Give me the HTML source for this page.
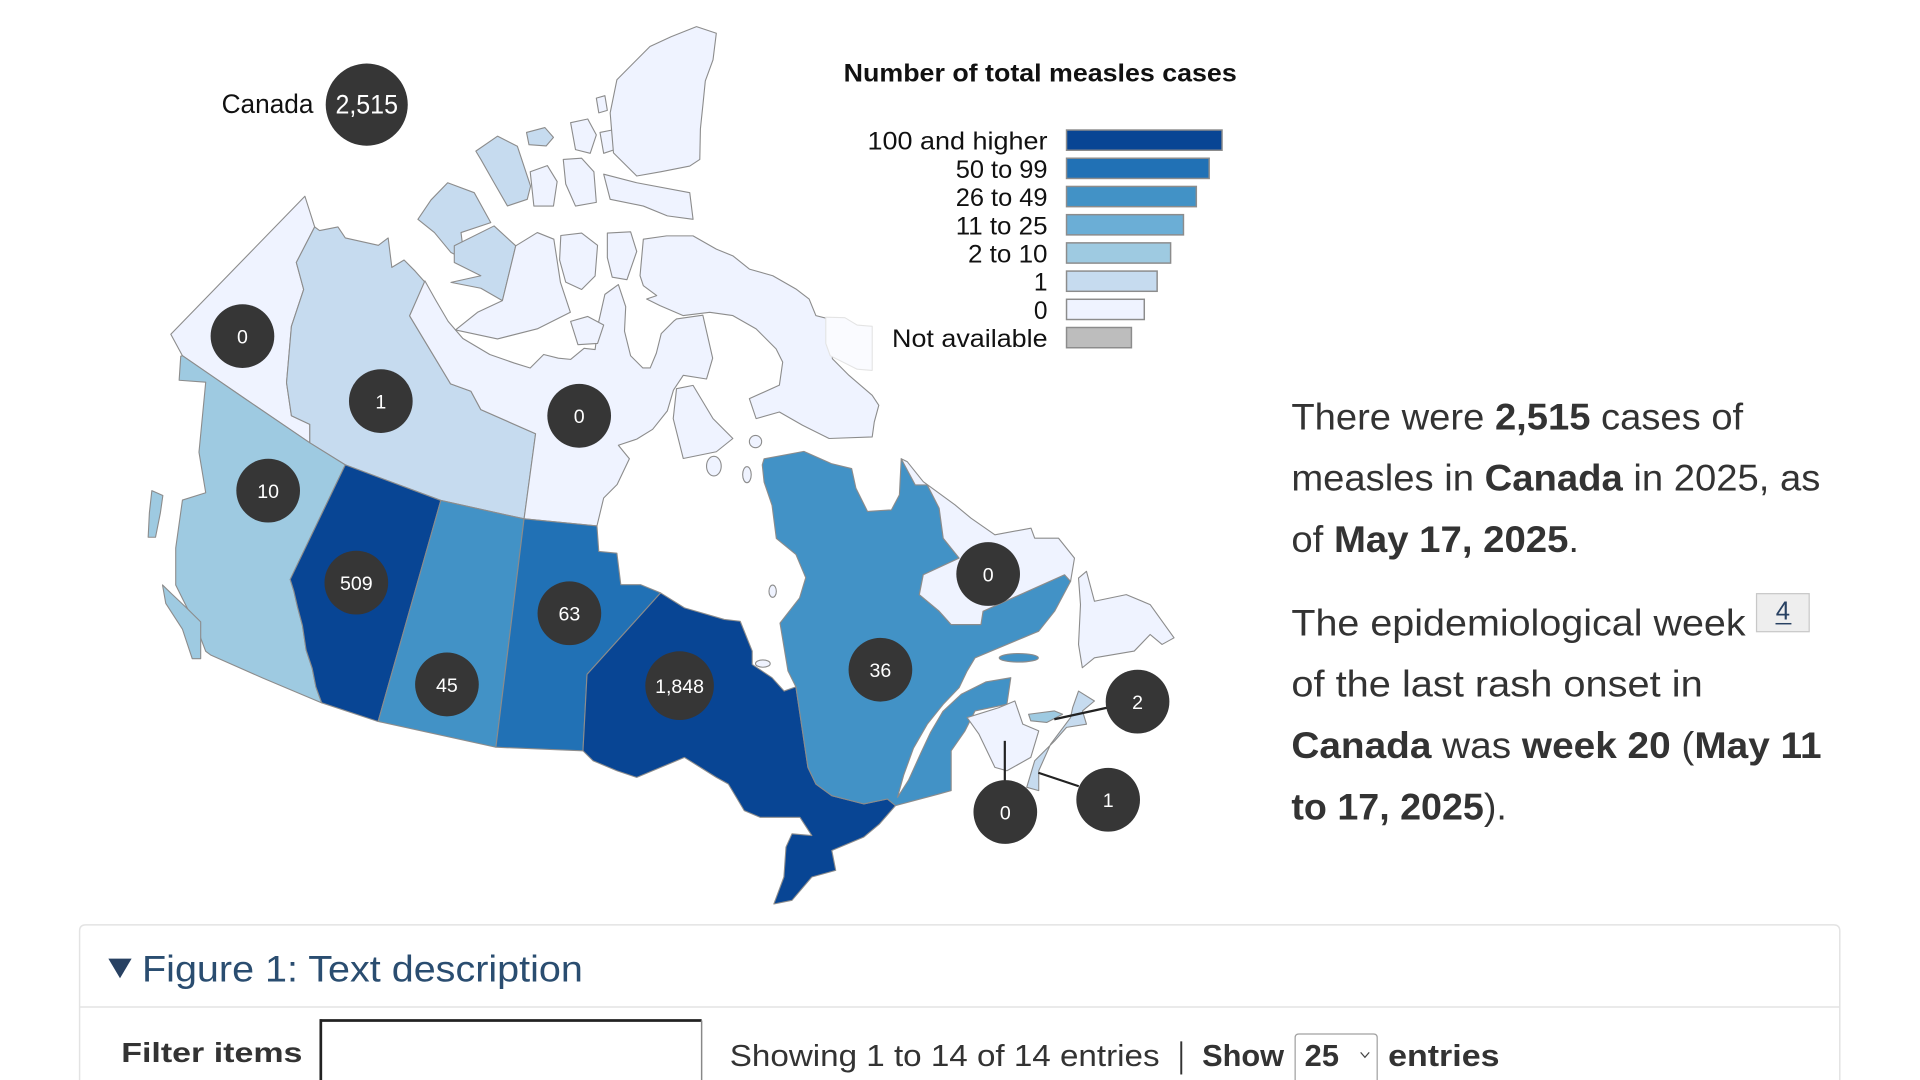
<!DOCTYPE html>
<html>
<head>
<meta charset="utf-8">
<style>
html,body{margin:0;padding:0;background:#fff;overflow:hidden;width:1920px;height:1080px;}
svg{display:block;}
text{font-family:"Liberation Sans",sans-serif;}
</style>
</head>
<body>
<svg width="1920" height="1080" viewBox="0 0 1568 880.5" preserveAspectRatio="none" xmlns="http://www.w3.org/2000/svg">
<rect x="0" y="0" width="1568" height="880.5" fill="#fff"/>

<g stroke="#8c8c8c" stroke-width="0.9" stroke-linejoin="round">
  <!-- Yukon -->
  <path fill="#eff3ff" d="M249,160 L257,185 L242,214 L248,236 L238,266 L234,312 L238,339 L253,346 L253,361 L200,325 L149,290 L139.5,272.5 Z"/>
  <!-- NWT -->
  <path fill="#c6dbef" d="M257,185 L261,188 L276,185 L282,194 L309,200 L317,194 L320,218 L330,212 L339,221 L347,230 L334.5,257.5 L349,281.5 L368,313 L384.6,319 L392.7,334 L437.4,353.6 L428,423 L360,408 L282,379 L253,361 L253,346 L238,339 L234,312 L238,266 L248,236 L242,214 Z"/>
  <!-- Nunavut mainland -->
  <path fill="#eff3ff" d="M347,229 L356,245 L366,262 L378,276 L400,289 L420,296 L433,300 L444,289 L456,292 L466,293 L477,284 L486,285 L489,262 L494,240 L505,232 L511,250 L510,270 L515,290 L525,300 L531,300 L536,288 L540,272 L550,262 L552.5,260 L574,257 L582,292 L577,309 L558,306 L550,318 L545,335 L533,350 L520,358 L505,363 L514,374 L504,395 L493,406 L487.5,428.8 L428,423 L437.4,353.6 L392.7,334 L384.6,319 L368,313 L349,281.5 L334.5,257.5 Z"/>
  <!-- Arctic islands, NWT -->
  <path fill="#c6dbef" d="M341.3,178.8 L352,163 L365.6,149 L387.3,157.1 L400.8,181.5 L376.5,189.6 L379.2,211.3 L368.3,205.9 L354.8,189.6 Z"/>
  <path fill="#c6dbef" d="M371,200.4 L403.5,184.2 L421.2,200.4 L410.3,245.1 L392.7,235 L368.3,230.2 L392.7,224.8 L371,214 Z"/>
  <path fill="#c6dbef" d="M388.6,123.2 L406.3,111 L422.5,119.2 L433.3,151.7 L430.6,162.5 L414.4,167.9 L403.5,149 L392.7,130 Z"/>
  <path fill="#c6dbef" d="M430,108 L445,104 L452,112 L446,119 L432,118 Z"/>
  <!-- Arctic islands, Nunavut -->
  <path fill="#eff3ff" d="M421.2,200.4 L438.8,189.6 L452.3,195 L457.7,230.2 L465.8,254.6 L438.8,268.1 L406.3,276.3 L372,269 L390,254.6 L410.3,245.1 Z"/>
  <path fill="#eff3ff" d="M433,140 L447,135 L455,148 L452,168 L436,168 Z"/>
  <path fill="#eff3ff" d="M466,100 L480,97 L487,110 L482,125 L470,122 Z"/>
  <path fill="#eff3ff" d="M490,108 L500,106 L502,122 L493,125 Z"/>
  <path fill="#eff3ff" d="M460,130 L475,129 L485,140 L487,165 L470,168 L462,150 Z"/>
  <path fill="#eff3ff" d="M487,80 L494,78 L496,90 L489,92 Z"/>
  <path fill="#eff3ff" d="M503.8,65 L530.8,37.9 L548,30 L568.8,21.7 L585,27.1 L582.3,48.8 L576,66 L574.2,84 L572,105 L571.5,130 L563.3,135.4 L540,140 L520,143.5 L501,124.6 L498.3,92 Z"/>
  <path fill="#eff3ff" d="M493,142 L520,149 L563.3,157.1 L566,178.8 L545,176 L525.4,168 L498.3,162.5 Z"/>
  <path fill="#eff3ff" d="M458,192 L475,190 L488,200 L486,225 L475,236 L462,230 L457,212 Z"/>
  <path fill="#eff3ff" d="M496,190 L515,189 L520,205 L512,228 L500,226 L496,210 Z"/>
  <path fill="#eff3ff" d="M466,262 L480,258 L493,265 L488,280 L472,281 Z"/>
  <!-- Baffin -->
  <path fill="#eff3ff" d="M522.7,224.8 L525.4,195 L544.4,192.3 L566,192.3 L585,203.1 L598.5,208.6 L612,219.4 L631.1,224.8 L650,235.6 L660.8,243.8 L666.3,257.3 L677.1,260 L679.8,292.5 L693.3,306 L712.3,322.3 L717.7,330.4 L714,344 L712.3,356.2 L677.1,357.5 L655.4,346.7 L636.5,335.9 L617.5,341.3 L612,325 L636.5,314 L639.2,295.2 L633.8,284.4 L617.5,268.1 L598.5,257.3 L579.6,254.6 L558,257.3 L539,249.2 L528.1,243.8 L536.3,241 L525.4,232.9 Z"/>
  <!-- Southampton etc -->
  <path fill="#eff3ff" d="M552.5,316.9 L566,314.2 L582.3,341.3 L598.5,357.5 L585,368.3 L558,373.8 L549.8,341.3 Z"/>
  <ellipse fill="#eff3ff" cx="617" cy="360" rx="5" ry="5"/>
  <ellipse fill="#eff3ff" cx="583" cy="380" rx="6" ry="8"/>
  <ellipse fill="#eff3ff" cx="610" cy="387" rx="3.5" ry="6.5"/>
  <ellipse fill="#eff3ff" cx="631" cy="482" rx="3" ry="5"/>
  <ellipse fill="#eff3ff" cx="623" cy="541" rx="6" ry="3"/>
  <!-- BC -->
  <path fill="#9ecae1" d="M149,290 L200,325 L253,361 L282,379 L237,472.4 L240,482 L243,495 L247,510 L250,530 L255,545 L258,560 L262.7,573 L215,553 L172,534 L168,531 L160,510 L150,490 L143.5,476.9 L143.5,446.8 L149,407.7 L168,401.7 L162.5,368.7 L168,311.6 L146.3,310 L147.6,290.5 Z"/>
  <path fill="#9ecae1" d="M132.7,476.9 L140,484 L151.7,495 L163.9,507 L163.9,537 L157,537 L149,513 L135.4,492 Z"/>
  <path fill="#9ecae1" d="M124,400 L133,404 L131,418 L127,438 L121,438 L122,418 Z"/>
  <!-- Alberta -->
  <path fill="#084594" d="M282,379 L360,408 L308.8,588.2 L262.7,573 L258,560 L255,545 L250,530 L247,510 L243,495 L240,482 L237,472.4 Z"/>
  <!-- Saskatchewan -->
  <path fill="#4292c6" d="M360,408 L428,423 L405,609.2 L308.8,588.2 Z"/>
  <!-- Manitoba -->
  <path fill="#2171b5" d="M428,423 L487.5,428.8 L489,449.6 L503.8,451 L507,476.7 L523.3,476.7 L539.5,483.4 L479.4,549.8 L476.1,612.1 L405,609.2 Z"/>
  <!-- Ontario -->
  <path fill="#084594" d="M539.5,483.4 L559,495.6 L591.5,505 L604.5,506.5 L614.3,530.8 L614.3,541.7 L630.5,552.5 L640.3,563.4 L650,560 L659.8,625.6 L666.3,639.2 L679.3,648.7 L705.3,655.4 L724.7,651.4 L731.3,656.8 L718.3,671.7 L705.3,682.5 L679.3,693.4 L682.5,709.6 L663,715 L646.8,734 L632,737 L640.2,715 L641.9,690.6 L646.8,679.8 L663,681.2 L653.3,666.3 L620.7,666.3 L607.8,660.9 L601.3,650 L594.8,639.2 L585,633.8 L559,617.5 L520,633.8 L503.8,628.4 L484.3,620.2 L476.1,612.1 L479.4,549.8 Z"/>
  <!-- Quebec -->
  <path fill="#4292c6" d="M650,560 L643.5,547 L637,508 L653,487.5 L658,471 L650,452 L634,439 L630.5,412 L624,393 L622.5,379 L624,374 L656.5,368 L679,378 L695.5,382 L699,398 L708.5,417 L728,415.7 L734.5,403.5 L736,374 L747.5,395.4 L757.3,395.4 L767,414.4 L770.3,438.8 L783.3,455 L754,468.6 L750.8,484.8 L767,498.3 L776.8,509.2 L801.1,509.2 L802.8,498.3 L869.4,468.6 L874.3,474 L861.3,498.3 L848.3,514.6 L835.3,520 L796.3,536.3 L789.8,547.1 L783.3,560.6 L770.3,574.2 L757.3,590.4 L746,610 L738,632 L733,650 L742,636 L752,614 L760,597 L770,580 L785,566 L805,556 L825.5,552.5 L822.3,574.2 L796.3,579.6 L788.1,595.9 L776.8,612.1 L776.8,644.6 L767,647.3 L731.3,656.8 L724.7,651.4 L705.3,655.4 L679.3,648.7 L666.3,639.2 L659.8,625.6 Z"/>
  <ellipse fill="#4292c6" cx="832" cy="536.3" rx="16" ry="3.5"/>
  <!-- Labrador -->
  <path fill="#eff3ff" d="M736,374 L741,376.5 L754,392.7 L780,411.7 L793,422.5 L812.5,436 L842,430.6 L845,438.8 L864.5,438.8 L877.5,455 L874.3,474 L869.4,468.6 L802.8,498.3 L801.1,509.2 L776.8,509.2 L767,498.3 L750.8,484.8 L754,468.6 L783.3,455 L770.3,438.8 L767,414.4 L757.3,395.4 L747.5,395.4 Z"/>
  <!-- Newfoundland -->
  <path fill="#eff3ff" d="M880.8,471.3 L887.3,465.8 L893.8,490.2 L919.8,484.8 L939.3,492.9 L958.8,520 L949,525.4 L939.3,517.3 L926.3,530.8 L893.8,536.3 L883.9,544.4 L880.8,525.4 L882.4,492.9 Z"/>
  <!-- New Brunswick -->
  <path fill="#eff3ff" d="M789.8,585 L815.8,576.9 L828.8,571.5 L835.3,590.4 L848.3,595.9 L841.8,617.5 L822.3,628.4 L812.5,625.6 L799.5,598.6 Z"/>
  <!-- Nova Scotia -->
  <path fill="#c6dbef" d="M838.5,641.9 L845,620.2 L861.3,604 L871,593 L887.3,590.4 L884,579.6 L893.8,571.5 L880.8,563.4 L876,577 L874.3,585 L858,606.7 L848.3,628.4 L848.3,644.6 Z"/>
  <!-- PEI -->
  <path fill="#9ecae1" d="M840,582.3 L861,579.6 L867.8,582.3 L854.8,589 L841.8,587.7 Z"/>
  <!-- Greenland ghost -->
  <path fill="#fafbff" stroke="#e4e4e4" d="M674.4,258.6 L690,259 L700,265 L712.3,266 L712.3,302 L700,301 L690,296 L678,290 L674.4,280 Z"/>
</g>

<!-- leader lines -->
<g stroke="#222" stroke-width="1.8">
  <line x1="848" y1="630" x2="881" y2="641"/>
  <line x1="861" y1="586.4" x2="904" y2="577"/>
  <line x1="820.6" y1="604" x2="820.6" y2="637"/>
</g>

<!-- circles -->
<g fill="#363636">
  <circle cx="299.5" cy="85.3" r="33.5"/>
  <circle cx="198" cy="274" r="26"/>
  <circle cx="311" cy="327" r="26"/>
  <circle cx="473" cy="339" r="26"/>
  <circle cx="219" cy="400" r="26"/>
  <circle cx="291" cy="475" r="26"/>
  <circle cx="365" cy="558" r="26"/>
  <circle cx="465" cy="500" r="26"/>
  <circle cx="555" cy="559" r="28"/>
  <circle cx="719" cy="546" r="26"/>
  <circle cx="807" cy="468" r="26"/>
  <circle cx="821" cy="662" r="26"/>
  <circle cx="905" cy="652" r="26"/>
  <circle cx="929" cy="572" r="26"/>
</g>
<g fill="#fff" font-size="16" text-anchor="middle">
  <text x="198" y="280">0</text>
  <text x="311" y="333">1</text>
  <text x="473" y="345">0</text>
  <text x="219" y="406">10</text>
  <text x="291" y="481">509</text>
  <text x="365" y="564">45</text>
  <text x="465" y="506">63</text>
  <text x="555" y="565">1,848</text>
  <text x="719" y="552">36</text>
  <text x="807" y="474">0</text>
  <text x="821" y="668">0</text>
  <text x="905" y="658">1</text>
  <text x="929" y="578">2</text>
  <text x="299.5" y="92.5" font-size="22" textLength="51" lengthAdjust="spacingAndGlyphs">2,515</text>
</g>
<text x="256" y="92" font-size="22" fill="#111" text-anchor="end" textLength="75" lengthAdjust="spacingAndGlyphs">Canada</text>

<!-- legend -->
<text x="689" y="66.4" font-size="20" font-weight="bold" fill="#111" textLength="321" lengthAdjust="spacingAndGlyphs">Number of total measles cases</text>
<g stroke="#8c8c8c" stroke-width="1.2">
  <rect x="871" y="106" width="127" height="16.5" fill="#084594"/>
  <rect x="871" y="129" width="116.5" height="16.5" fill="#2171b5"/>
  <rect x="871" y="152" width="106" height="16.5" fill="#4292c6"/>
  <rect x="871" y="175" width="95.5" height="16.5" fill="#6baed6"/>
  <rect x="871" y="198" width="85" height="16.5" fill="#9ecae1"/>
  <rect x="871" y="221" width="74" height="16.5" fill="#c6dbef"/>
  <rect x="871" y="244" width="63.5" height="16.5" fill="#eff3ff"/>
  <rect x="871" y="267" width="53" height="16.5" fill="#bdbdbd"/>
</g>
<g font-size="20" fill="#111" text-anchor="end">
  <text x="855.5" y="122" textLength="147" lengthAdjust="spacingAndGlyphs">100 and higher</text>
  <text x="855.5" y="145" textLength="75" lengthAdjust="spacingAndGlyphs">50 to 99</text>
  <text x="855.5" y="168" textLength="75" lengthAdjust="spacingAndGlyphs">26 to 49</text>
  <text x="855.5" y="191" textLength="75" lengthAdjust="spacingAndGlyphs">11 to 25</text>
  <text x="855.5" y="214" textLength="65" lengthAdjust="spacingAndGlyphs">2 to 10</text>
  <text x="855.5" y="237">1</text>
  <text x="855.5" y="260">0</text>
  <text x="855.5" y="283" textLength="127" lengthAdjust="spacingAndGlyphs">Not available</text>
</g>

<!-- right paragraph -->
<g font-size="30" fill="#333">
  <text x="1054.6" y="350" textLength="369" lengthAdjust="spacingAndGlyphs">There were <tspan font-weight="bold">2,515</tspan> cases of</text>
  <text x="1054.6" y="400" textLength="432" lengthAdjust="spacingAndGlyphs">measles in <tspan font-weight="bold">Canada</tspan> in 2025, as</text>
  <text x="1054.6" y="450" textLength="235" lengthAdjust="spacingAndGlyphs">of <tspan font-weight="bold">May 17, 2025</tspan>.</text>
  <text x="1054.6" y="518" textLength="371" lengthAdjust="spacingAndGlyphs">The epidemiological week</text>
  <text x="1054.6" y="568" textLength="336" lengthAdjust="spacingAndGlyphs">of the last rash onset in</text>
  <text x="1054.6" y="618" textLength="433" lengthAdjust="spacingAndGlyphs"><tspan font-weight="bold">Canada</tspan> was <tspan font-weight="bold">week 20</tspan> (<tspan font-weight="bold">May 11</tspan></text>
  <text x="1054.6" y="668" textLength="176" lengthAdjust="spacingAndGlyphs"><tspan font-weight="bold">to 17, 2025</tspan>).</text>
</g>
<rect x="1434.5" y="484" width="43" height="31" fill="#eeeeee" stroke="#c8c8c8" stroke-width="1"/>
<text x="1456" y="505" font-size="21" fill="#284162" text-anchor="middle">4</text>
<line x1="1450" y1="508.5" x2="1463" y2="508.5" stroke="#284162" stroke-width="1.2"/>

<!-- details panel -->
<path d="M65,880.5 L65,759 Q65,754 70,754 L1497.5,754 Q1502.5,754 1502.5,759 L1502.5,880.5" fill="#fff" stroke="#e3e3e3" stroke-width="1.2"/>
<line x1="65" y1="821" x2="1502.5" y2="821" stroke="#e3e3e3" stroke-width="1.2"/>
<polygon points="88.5,781.5 107.5,781.5 98,797.5" fill="#284162"/>
<text x="116" y="800" font-size="30" fill="#2a4d70" textLength="360" lengthAdjust="spacingAndGlyphs">Figure 1: Text description</text>
<text x="99" y="866" font-size="23" font-weight="bold" fill="#333" textLength="148" lengthAdjust="spacingAndGlyphs">Filter items</text>
<rect x="261" y="831" width="312" height="49.5" fill="#fff"/>
<line x1="261" y1="832" x2="573" y2="832" stroke="#222" stroke-width="2.2"/>
<line x1="262" y1="831" x2="262" y2="880.5" stroke="#222" stroke-width="2.2"/>
<line x1="573" y1="832" x2="573" y2="880.5" stroke="#888" stroke-width="1.2"/>
<text x="596" y="869" font-size="25" fill="#333" textLength="351" lengthAdjust="spacingAndGlyphs">Showing 1 to 14 of 14 entries</text>
<line x1="964.7" y1="849" x2="964.7" y2="876" stroke="#333" stroke-width="1.6"/>
<text x="981.7" y="869" font-size="25" font-weight="bold" fill="#333" textLength="67" lengthAdjust="spacingAndGlyphs">Show</text>
<path d="M1057.7,880.5 L1057.7,846 Q1057.7,843 1060.7,843 L1121.7,843 Q1124.7,843 1124.7,846 L1124.7,880.5" fill="#fff" stroke="#a0a0a0" stroke-width="1"/>
<text x="1065.5" y="869" font-size="25" font-weight="bold" fill="#333" textLength="28" lengthAdjust="spacingAndGlyphs">25</text>
<polyline points="1111.2,858 1114.7,862 1118.2,858" fill="none" stroke="#444" stroke-width="1"/>
<text x="1133.6" y="869" font-size="25" font-weight="bold" fill="#333" textLength="91" lengthAdjust="spacingAndGlyphs">entries</text>
</svg>
</body>
</html>
